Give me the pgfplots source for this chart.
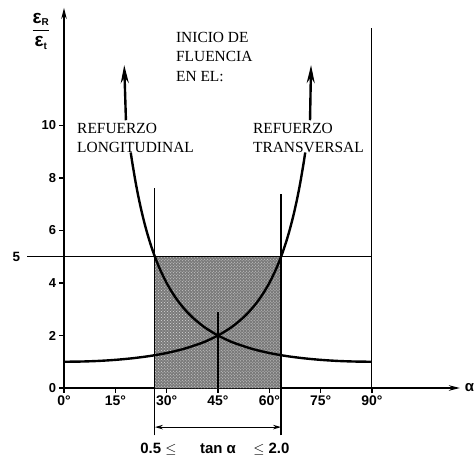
\documentclass[border=0pt]{standalone}
\usepackage{pgfplots}
\pgfplotsset{compat=1.18}
\usepackage{fontspec}
\setmainfont{Liberation Serif}
\setsansfont{Liberation Sans}
\usetikzlibrary{arrows.meta,patterns}

\begin{document}
\begin{tikzpicture}
\begin{axis}[
 scale only axis, width=395.9bp, height=380.1bp,
 xmin=0, xmax=115.7, ymin=0, ymax=14.48,
 axis lines=left,
 axis line style={line width=1.5pt, -{Stealth[length=11bp,width=5.5bp]}},
 xtick={0,15,...,90}, xticklabels={0°,15°,30°,45°,60°,75°,90°},
 ytick={0,2,...,10},
 tick align=outside, major tick length=4.5bp,
 tick style={line width=1.1pt,black},
 /pgf/number format/assume math mode=true,
 xticklabel style={font=\sffamily\bfseries\fontsize{14}{14}\selectfont},
 yticklabel style={font=\sffamily\bfseries\fontsize{13}{13}\selectfont},
 clip=false,
]
% shaded region 0.5 <= tan(alpha) <= 2
\addplot[draw=none, fill=black!52] coordinates {(26.565,0)(26.565,5)(63.435,5)(63.435,0)(26.565,0)};
\addplot[draw=none, pattern=crosshatch dots, pattern color=white!85!black] coordinates {(26.565,0)(26.565,5)(63.435,5)(63.435,0)(26.565,0)};
% reference lines
\addplot[line width=1.5pt] coordinates {(-10.8,5)(90,5)};
\addplot[line width=1.2pt] coordinates {(26.565,-1.8)(26.565,7.6)};
\addplot[line width=1.2pt] coordinates {(63.435,-1.8)(63.435,7.4)};
\addplot[line width=1.2pt] coordinates {(45,0)(45,2.9)};
\addplot[line width=1.0pt] coordinates {(90,0)(90,13.7)};
\addplot[line width=1.2pt, {Stealth[length=8bp,width=4.5bp]}-{Stealth[length=8bp,width=4.5bp]}] coordinates {(26.565,-1.49)(63.435,-1.49)};
% longitudinal: 1/sin^2
\addplot[line width=2.4pt, smooth] coordinates {
(19.5,8.974)(20,8.549)(21,7.786)(22,7.126)(23,6.550)(24,6.045)(25,5.599)(26,5.204)(26.565,5.0)
(28,4.537)(30,4.0)(32,3.561)(34,3.198)(36,2.894)(38,2.638)(40,2.420)(42,2.233)(45,2.0)
(48,1.811)(50,1.704)(55,1.490)(60,1.333)(65,1.217)(70,1.133)(75,1.072)(80,1.031)(85,1.008)(90,1.0)};
% transversal: 1/cos^2
\addplot[line width=2.4pt, smooth] coordinates {
(70.5,8.974)(70,8.549)(69,7.786)(68,7.126)(67,6.550)(66,6.045)(65,5.599)(64,5.204)(63.435,5.0)
(62,4.537)(60,4.0)(58,3.561)(56,3.198)(54,2.894)(52,2.638)(50,2.420)(48,2.233)(45,2.0)
(42,1.811)(40,1.704)(35,1.490)(30,1.333)(25,1.217)(20,1.133)(15,1.072)(10,1.031)(5,1.008)(0,1.0)};
% arrows
\addplot[line width=2.4pt, -{Stealth[length=18bp,width=8bp]}] coordinates {(18.1,10.2)(17.6,12.3)};
\addplot[line width=2.4pt, -{Stealth[length=18bp,width=8bp]}] coordinates {(71.9,10.2)(72.2,12.3)};
% labels
\node[anchor=west, align=left, inner sep=0, font=\fontsize{15.5}{19}\selectfont] at (axis cs:3.8,9.54) {REFUERZO\\LONGITUDINAL};
\node[anchor=west, align=left, inner sep=0, font=\fontsize{15.5}{19}\selectfont] at (axis cs:55.2,9.54) {REFUERZO\\TRANSVERSAL};
\node[anchor=west, align=left, inner sep=0, font=\fontsize{15.5}{20}\selectfont] at (axis cs:32.7,12.61) {INICIO DE\\FLUENCIA\\EN EL:};
\node[font=\sffamily\bfseries\fontsize{19}{19}\selectfont] at (axis cs:-6.7,13.6) {$\displaystyle\frac{\mbox{ε}_{\mbox{\fontsize{10}{10}\selectfont R}}}{\mbox{ε}_{\mbox{\fontsize{10}{10}\selectfont t}}}$};
\node[font=\sffamily\bfseries\fontsize{13.5}{13}\selectfont] at (axis cs:-13.9,5) {5};
\node[anchor=east, inner sep=1bp, font=\sffamily\bfseries\fontsize{15}{15}\selectfont] at (axis cs:120.2,0) {α};
\node[font=\sffamily\bfseries\fontsize{15}{15}\selectfont] at (axis cs:27.6,-2.32) {0.5 $\leq$};
\node[font=\sffamily\bfseries\fontsize{15}{15}\selectfont] at (axis cs:45,-2.32) {tan α};
\node[font=\sffamily\bfseries\fontsize{15}{15}\selectfont] at (axis cs:60.6,-2.32) {$\leq$ 2.0};
\coordinate (O) at (axis cs:0,0);
\end{axis}
\pgfresetboundingbox
\path[use as bounding box] ([shift={(-64bp,-73bp)}]O) rectangle ([shift={(412bp,388bp)}]O);
\end{tikzpicture}
\end{document}
